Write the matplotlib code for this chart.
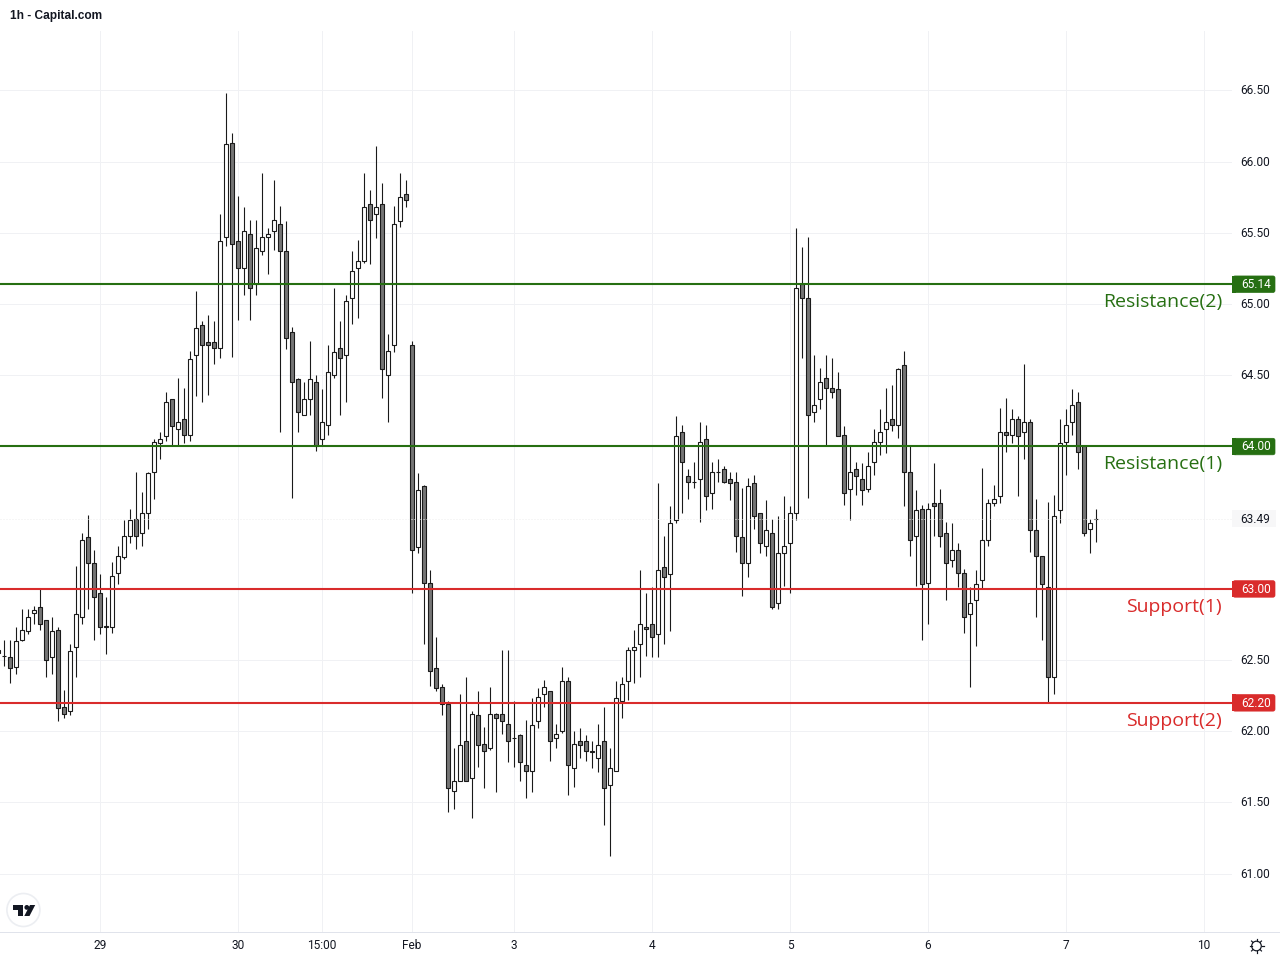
import numpy as np
import matplotlib
matplotlib.use("Agg")
import matplotlib.pyplot as plt
from matplotlib.patches import Circle, FancyBboxPatch, Polygon, Rectangle

# hourly bars, first one is cut off by the left edge
highs = [62.60,62.64,62.64,62.73,62.86,62.86,62.88,63.00,62.78,62.80,62.73,62.29,62.61,63.16,63.39,63.52,63.27,63.10,62.94,63.19,63.30,63.48,63.56,63.82,63.68,63.82,64.05,64.10,64.38,64.33,64.48,64.41,64.67,65.09,64.88,64.92,64.88,65.63,66.48,66.20,65.76,65.68,65.59,65.59,65.92,65.53,65.87,65.69,65.58,64.84,64.48,64.45,64.74,64.50,64.40,64.71,65.11,64.88,65.06,65.37,65.45,65.92,65.80,66.11,65.85,64.79,65.69,65.92,65.87,
         64.74,63.81,63.73,63.13,62.66,62.33,62.21,61.88,62.26,62.38,62.14,62.28,62.03,62.31,62.13,62.57,62.57,62.21,61.98,62.08,62.23,62.30,62.36,62.28,62.05,62.45,62.38,62.00,62.02,61.97,61.93,62.05,62.17,61.88,62.35,62.38,62.59,62.71,63.13,62.97,63.01,63.74,63.37,63.58,64.21,64.15,63.84,63.89,64.17,64.15,63.89,63.91,63.86,63.82,63.82,63.71,63.78,63.80,63.53,63.62,63.49,63.51,63.65,63.58,65.53,65.40,65.47,64.64,64.55,64.64,64.62,64.52,64.14,64.00,63.89,63.88,63.96,64.12,64.26,64.41,64.43,64.55,64.67,64.00,63.69,63.59,63.60,63.88,63.70,63.47,63.46,63.32,63.14,63.01,63.13,63.85,63.63,63.73,64.27,64.34,64.26,64.21,64.58,64.19,63.63,63.23,63.61,63.66,64.19,64.26,64.40,64.38,64.00,63.49,63.56]
lows = [62.50,62.46,62.34,62.40,62.63,62.68,62.75,62.71,62.38,62.40,62.07,62.09,62.11,62.38,62.75,62.86,62.64,62.68,62.54,62.69,63.03,63.21,63.32,63.28,63.30,63.42,63.63,63.91,64.04,64.01,64.01,64.02,64.04,64.35,64.31,64.36,64.58,64.62,65.41,64.63,64.89,65.06,64.89,65.06,65.34,65.21,65.38,64.10,64.68,63.64,64.10,64.22,64.22,63.97,64.00,64.08,64.48,64.22,64.31,64.86,64.90,65.29,65.28,65.46,64.34,64.17,64.66,65.54,65.68,
        62.97,63.25,62.61,62.32,62.28,62.11,61.43,61.45,61.65,61.65,61.39,61.75,61.60,61.87,61.57,61.98,61.78,61.75,61.65,61.53,61.57,62.02,62.17,61.79,61.88,61.99,61.55,61.61,61.81,61.79,61.74,61.71,61.34,61.12,61.72,62.09,62.22,62.34,62.38,62.53,62.52,62.52,62.61,62.70,63.46,63.53,63.63,63.71,63.47,63.55,63.56,63.75,63.74,63.62,63.26,62.95,63.08,63.42,63.25,63.23,62.86,62.86,63.02,62.97,63.48,64.62,63.64,64.17,64.26,64.00,64.34,64.07,63.59,63.48,63.66,63.59,63.68,63.80,63.94,63.95,64.11,64.06,63.58,63.23,63.02,62.64,62.75,63.37,63.29,62.92,63.15,63.01,62.69,62.31,62.60,63.00,63.30,63.58,63.60,63.96,64.02,63.65,63.91,63.26,62.80,62.64,62.20,62.26,63.46,63.80,64.08,63.84,63.37,63.25,63.33]
opens = [62.57,62.53,62.52,62.45,62.64,62.70,62.83,62.87,62.78,62.52,62.71,62.17,62.14,62.59,62.80,63.36,63.18,62.97,62.74,62.73,63.11,63.22,63.37,63.49,63.39,63.53,63.82,64.02,64.07,64.33,64.12,64.19,64.08,64.64,64.85,64.73,64.73,64.69,65.47,66.13,65.44,65.25,65.49,65.14,65.37,65.47,65.51,65.56,65.37,64.80,64.47,64.22,64.33,64.45,64.05,64.15,64.50,64.69,64.64,65.04,65.25,65.30,65.70,65.63,65.70,64.50,64.71,65.58,65.77,
         64.71,63.29,63.72,63.04,62.44,62.31,62.19,61.58,61.65,61.93,61.67,62.11,61.91,61.88,62.12,62.12,62.05,61.95,61.97,61.76,61.72,62.07,62.26,62.28,61.95,62.00,62.35,61.74,61.93,61.93,61.86,61.81,61.93,61.62,61.72,62.21,62.35,62.57,62.61,62.73,62.75,62.68,63.15,63.10,63.48,64.10,63.79,63.75,63.77,64.05,63.67,63.82,63.84,63.77,63.75,63.36,63.18,63.74,63.53,63.30,63.39,62.90,63.25,63.32,63.53,65.14,65.04,64.24,64.33,64.48,64.41,64.40,64.08,63.70,63.84,63.77,63.70,63.89,64.03,64.12,64.19,64.15,64.57,63.82,63.37,63.56,63.04,63.60,63.60,63.39,63.20,63.27,63.11,62.82,62.92,63.06,63.34,63.60,63.65,64.10,64.08,64.19,64.10,64.17,63.41,63.23,63.01,62.38,63.55,64.03,64.17,64.31,64.00,63.42,63.49]
closes = [62.55,62.53,62.44,62.63,62.71,62.80,62.85,62.75,62.50,62.70,62.16,62.12,62.56,62.82,63.34,63.18,62.94,62.73,62.73,63.09,63.23,63.37,63.48,63.37,63.53,63.81,64.03,64.05,64.31,64.14,64.17,64.08,64.61,64.83,64.71,64.71,64.69,65.44,66.12,65.42,65.25,65.51,65.11,65.39,65.47,65.49,65.59,65.37,64.76,64.45,64.24,64.33,64.47,64.00,64.17,64.52,64.66,64.62,65.02,65.23,65.30,65.68,65.59,65.68,64.54,64.67,65.56,65.75,65.73,
          63.27,63.69,63.04,62.42,62.30,62.19,61.60,61.65,61.90,61.65,62.12,61.90,61.86,62.12,62.09,62.07,61.93,61.95,61.78,61.72,62.04,62.24,62.31,61.93,61.98,62.35,61.76,61.91,61.90,61.86,61.85,61.90,61.60,61.74,62.23,62.33,62.57,62.59,62.75,62.72,62.66,63.13,63.08,63.46,64.07,63.89,63.75,63.75,64.03,63.65,63.82,63.82,63.75,63.74,63.37,63.18,63.72,63.51,63.32,63.41,62.87,63.25,63.30,63.53,65.11,65.04,64.22,64.29,64.45,64.41,64.38,64.07,63.67,63.82,63.79,63.69,63.86,64.03,64.10,64.17,64.15,64.54,63.82,63.34,63.55,63.03,63.56,63.58,63.37,63.18,63.27,63.11,62.80,62.90,63.03,63.34,63.60,63.63,64.10,64.08,64.19,64.07,64.17,63.41,63.23,63.03,62.38,63.51,64.02,64.15,64.29,63.96,63.39,63.46,63.49]

date_ticks = [16, 39, 53, 68, 85, 108, 131, 154, 177, 200]
date_labels = ["29", "30", "15:00", "Feb", "3", "4", "5", "6", "7", "10"]
price_grid = [66.5, 66.0, 65.5, 65.0, 64.5, 64.0, 63.0, 62.5, 62.0, 61.5, 61.0]
price_labels = [66.5, 66.0, 65.5, 65.0, 64.5, 62.5, 62.0, 61.5, 61.0]
last_price = 63.49
levels = [65.14, 64.00, 63.00, 62.20]
level_names = ["Resistance(2)", "Resistance(1)", "Support(1)", "Support(2)"]
level_colors = ["#266f12", "#266f12", "#d92b2b", "#d92b2b"]

W, H = 1280, 960
TOP, BOTTOM, RIGHT = 31, 932, 1232
PX = 0.72  # one pixel in points
plt.rcParams["font.family"] = ["Roboto", "DejaVu Sans"]

fig = plt.figure(figsize=(12.8, 9.6), dpi=100)
ax = fig.add_axes([0, 1 - BOTTOM / H, RIGHT / W, (BOTTOM - TOP) / H])
ax.set_xlim(-0.717, -0.717 + RIGHT / 6)
ax.set_ylim(64 - (BOTTOM - 446.3) / 142.4, 64 + (446.3 - TOP) / 142.4)
ax.axis("off")

for t in date_ticks:
    ax.axvline(t, color="#f0f1f4", lw=PX, zorder=1)
for p in price_grid:
    ax.axhline(p, color="#f0f1f4", lw=PX, zorder=1)

xs = np.arange(len(opens)) - 1
o = np.array(opens)
c = np.array(closes)
up = c >= o
ax.vlines(xs, lows, highs, color="#1a1a1a", lw=PX * 1.1, zorder=3)
ax.bar(xs, np.abs(c - o), bottom=np.minimum(o, c), width=0.7,
       color=np.where(up, "white", "#757575").tolist(),
       edgecolor="#1a1a1a", linewidth=PX * 1.1, zorder=4)

for lv, col in zip(levels, level_colors):
    ax.axhline(lv, color=col, lw=1.5, zorder=5)
ax.axhline(last_price, color="#eeeeee", lw=PX, ls=(0, (1, 2)), zorder=6)

# everything outside the plot is placed in pixels on a full figure overlay
ov = fig.add_axes([0, 0, 1, 1], facecolor="none")
ov.set_xlim(0, W)
ov.set_ylim(H, 0)
ov.axis("off")

ov.text(10, 15.5, "1h - Capital.com", fontsize=8.6, fontweight="bold", color="#131722", va="center",
        family=["Liberation Sans", "DejaVu Sans"])
ov.plot([0, RIGHT], [BOTTOM, BOTTOM], color="#e0e3eb", lw=PX)
ov.plot([RIGHT + 1, W], [BOTTOM, BOTTOM], color="#e0e3eb", lw=PX)

to_y = lambda p: 446.3 + (64 - p) * 142.4
to_x = lambda i: 4.3 + 6 * i
for t, s in zip(date_ticks, date_labels):
    ov.text(to_x(t) - 0.3, 945.5, s, fontsize=8.6, color="#131722", ha="center", va="center")
for p in price_labels:
    ov.text(1270, to_y(p) + 0.7, f"{p:.2f}", fontsize=8.6, color="#131722", ha="right", va="center")
ov.add_patch(Rectangle((1232, to_y(last_price) - 8.5), 44, 17, fc="#f7f7f8", ec="none"))
ov.text(1270, to_y(last_price) + 0.7, f"{last_price:.2f}", fontsize=8.6, color="#131722", ha="right", va="center")

for lv, name, col in zip(levels, level_names, level_colors):
    y = to_y(lv)
    ov.add_patch(FancyBboxPatch((1233, y - 8), 42, 16.5, boxstyle="round,pad=0,rounding_size=2",
                                fc=col, ec=col, lw=0.5))
    ov.add_patch(Rectangle((1232, y - 8.2), 4, 16.9, fc=col, ec="none"))
    ov.text(1270.5, y + 0.7, f"{lv:.2f}", fontsize=8.6, color="white", ha="right", va="center")
    ov.text(1222, y + 18, name, fontsize=14, color=col, ha="right", va="center",
            family=["Open Sans", "DejaVu Sans"])

# TradingView badge
ov.add_patch(Circle((23.4, 910), 16.5, fc="white", ec="#eceef2", lw=1.2))
ov.add_patch(Polygon([(13, 905), (23.3, 905), (23.3, 916), (18, 916), (18, 910), (13, 910)], fc="#131722", ec="none"))
ov.add_patch(Circle((26.8, 907.4), 2.4, fc="#131722", ec="none"))
ov.add_patch(Polygon([(30, 905), (35.2, 905), (29.5, 916), (24.3, 916)], fc="#131722", ec="none"))

# settings icon
ov.add_patch(Circle((1256.5, 946), 4.8, fc="white", ec="#131722", lw=PX * 1.2))
for a in np.arange(0, 360, 45):
    ca, sa = np.cos(np.radians(a)), np.sin(np.radians(a))
    ov.plot([1256.5 + 5 * ca, 1256.5 + 7 * ca], [946 + 5 * sa, 946 + 7 * sa], color="#131722", lw=PX * 1.2)

fig.savefig("out.png", dpi=100, facecolor="white")
